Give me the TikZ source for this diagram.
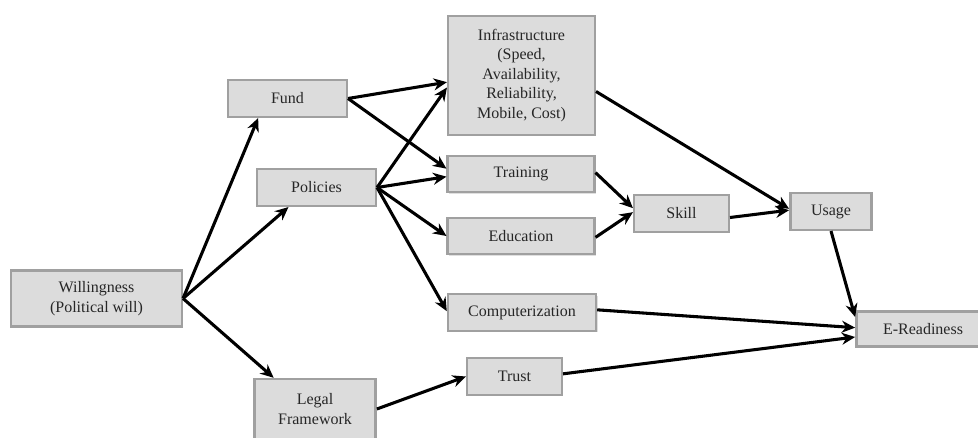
\documentclass[tikz,border=0pt]{standalone}
\usepackage{fontspec}
\setmainfont{Liberation Serif}[Ligatures=TeX]
\usepackage{tikz}
\usepackage{xcolor}
\usetikzlibrary{arrows.meta, calc, shadows}
\definecolor{boxFill}{HTML}{DCDCDC}
\definecolor{boxLine}{HTML}{A0A0A0}
\tikzstyle{process} = [rectangle, align=center, inner sep=2pt, draw=boxLine, line width=1.8pt, fill=boxFill, text=black!85, font=\rmfamily\fontsize{12}{14.6}\selectfont, drop shadow={opacity=0.25, shadow xshift=1.2pt, shadow yshift=-1.2pt}]
\tikzstyle{narrow} = [process, minimum width=71pt, minimum height=27.5pt]
\tikzstyle{medium} = [process, minimum width=89pt, minimum height=27.5pt]
\tikzstyle{wide} = [process, minimum width=110pt, minimum height=27pt]
\tikzstyle{arrow} = [line width=2.3pt, -{Stealth[length=10pt, width=9pt]}]

\begin{document}
\begin{tikzpicture}[x=0.75pt, y=-0.75pt]
\useasboundingbox (0,0) rectangle (978,438);

\node (will) [process, minimum width=128pt, minimum height=42pt] at (96.5,298.5) {Willingness\\(Political will)};
\node (fund) [medium] at (287.5,98.5) {Fund};
\node (pol) [medium] at (316.5,187.5) {Policies};
\node (legal) [medium, minimum width=91pt, minimum height=45pt] at (315,409) {Legal\\Framework};
\node (infra) [wide, minimum height=89pt] at (521.5,75.5) {Infrastructure\\(Speed,\\Availability,\\Reliability,\\Mobile, Cost)};
\node (train) [wide] at (521,174) {Training};
\node (edu) [wide] at (521,236) {Education};
\node (comp) [wide, minimum width=111pt, minimum height=27.5pt] at (522,312.5) {Computerization};
\node (trust) [narrow] at (514.5,376.5) {Trust};
\node (skill) [narrow] at (681.5,213.5) {Skill};
\node (usage) [narrow, minimum width=61pt] at (831,211.5) {Usage};
\node (eread) [narrow, minimum width=100pt, minimum height=26pt] at (923,329) {E-Readiness};

% political will feeds the three levers
\draw [arrow] (will.east) -- ([xshift=-22pt]fund.south);
\draw [arrow] (will.east) -- ([xshift=-21pt]pol.south);
\draw [arrow] (will.east) -- ([xshift=-31pt]legal.north);

\draw [arrow] (fund.east) -- ([yshift=-5pt]infra.west);
\draw [arrow] (fund.east) -- ([yshift=4pt]train.west);
\draw [arrow] (pol.east) -- ([yshift=-9pt]infra.west);
\draw [arrow] (pol.east) -- ([yshift=-2pt]train.west);
\draw [arrow] (pol.east) -- (edu.west);
\draw [arrow] (pol.east) -- ([yshift=1pt]comp.west);
\draw [arrow] (legal.east) -- (trust.west);

\draw [arrow] ([yshift=1pt]train.east) -- ([yshift=4pt]skill.west);
\draw [arrow] ([yshift=-1pt]edu.east) -- ([yshift=1pt]skill.west);
\draw [arrow] ([yshift=-3pt]skill.east) -- ([yshift=1pt]usage.west);
\draw [arrow] ([yshift=-12pt]infra.east) -- ([yshift=2pt]usage.west);

% everything ends in e-readiness
\draw [arrow] (usage.south) -- ([yshift=9pt]eread.west);
\draw [arrow] ([yshift=2pt]comp.east) -- ([yshift=1pt]eread.west);
\draw [arrow] ([yshift=2pt]trust.east) -- ([yshift=-6pt]eread.west);

\end{tikzpicture}
\end{document}
